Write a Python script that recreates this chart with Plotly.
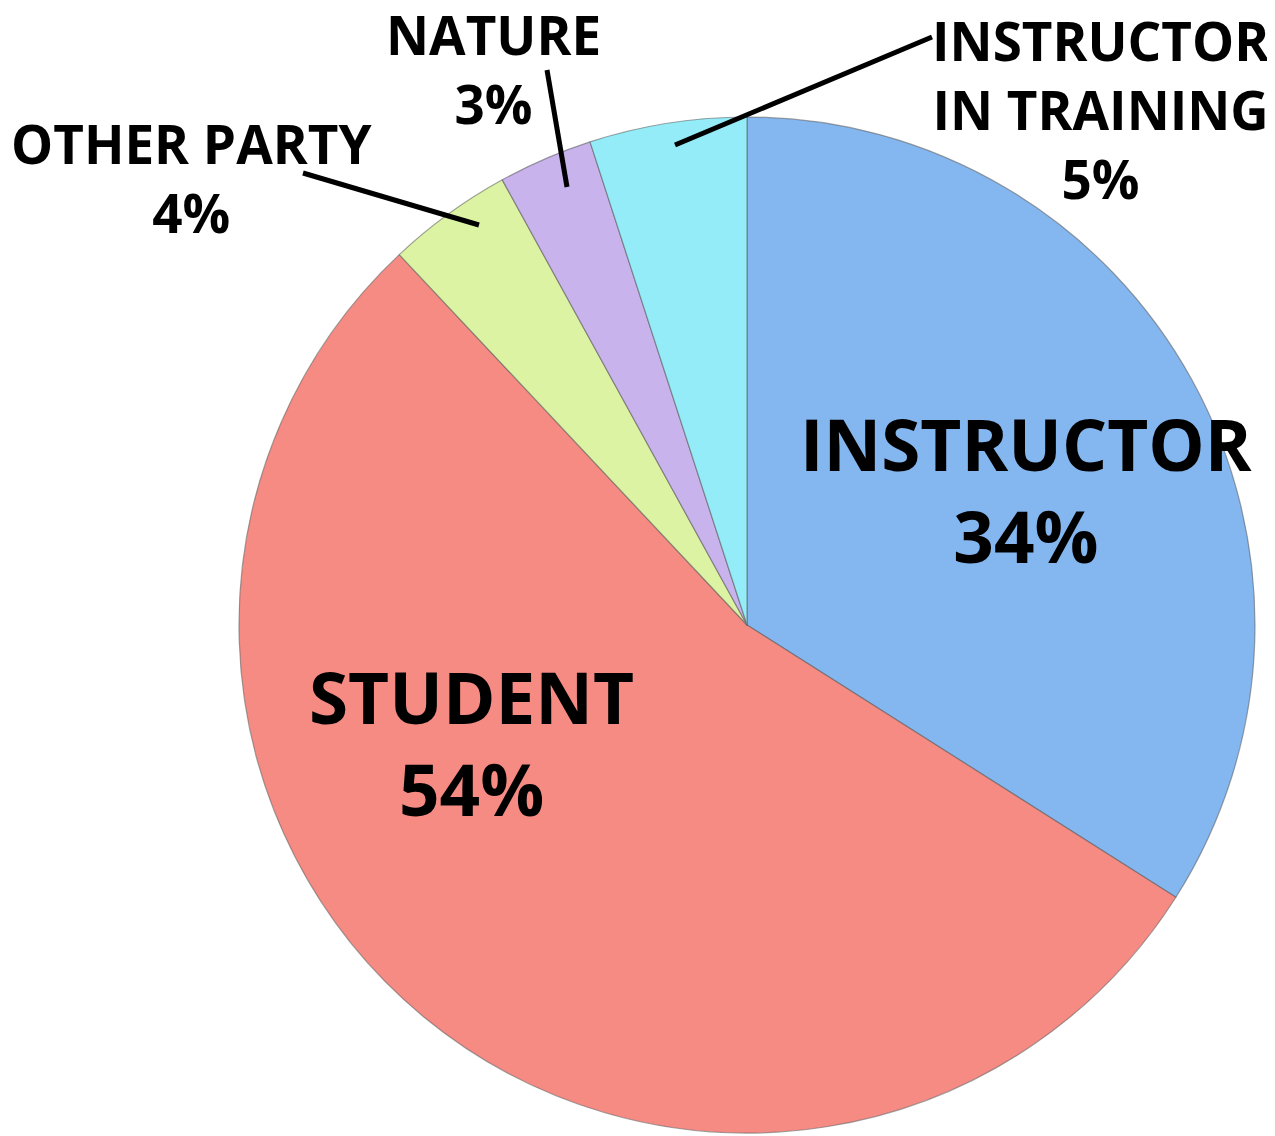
import plotly.graph_objects as go

labels = ['INSTRUCTOR', 'STUDENT', 'OTHER PARTY', 'NATURE', 'INSTRUCTOR IN TRAINING']
values = [34, 54, 4, 3, 5]
colors = ['#84b7ef', '#f58b83', '#dcf3a4', '#c9b3ec', '#93ecf8']

W, H = 1275, 1136
OFF = 8  # page body margin


def px(x):
    return (x - OFF) / W


def py(y):
    return 1 - (y - OFF) / H


fig = go.Figure()
fig.add_trace(go.Pie(
    labels=labels,
    values=values,
    sort=False,
    direction='clockwise',
    rotation=0,
    textinfo='none',
    hoverinfo='label+percent',
    marker=dict(colors=colors, line=dict(color='rgba(90,90,90,0.55)', width=1.2)),
    domain=dict(x=[px(239), px(1255)], y=[py(1133), py(117)]),
    showlegend=False,
))

# label placement (pixel centres) and font size per slice
label_pos = {
    'INSTRUCTOR': (1026, 490, 71),
    'STUDENT': (472, 742, 71),
    'OTHER PARTY': (191, 178, 53),
    'NATURE': (493, 69, 53),
    'INSTRUCTOR IN TRAINING': (1100, 109, 53),
}
for lab, val in zip(labels, values):
    x, y, size = label_pos[lab]
    txt = lab.replace('INSTRUCTOR IN', 'INSTRUCTOR<br>IN')
    fig.add_annotation(
        x=px(x), y=py(y), xref='paper', yref='paper',
        text=f'{txt}<br>{val}%', showarrow=False,
        xanchor='center', yanchor='middle', align='center',
        font=dict(family='Open Sans', size=size, color='black', weight=700),
    )

# leader lines
leaders = [((675, 145), (932, 37)), ((547, 70), (567, 187)), ((303, 173), (479, 225))]
for (x0, y0), (x1, y1) in leaders:
    fig.add_shape(type='line', xref='paper', yref='paper',
                  x0=px(x0), y0=py(y0), x1=px(x1), y1=py(y1),
                  line=dict(color='black', width=5))

fig.update_layout(
    width=W, height=H,
    margin=dict(t=0, b=0, l=0, r=0),
    paper_bgcolor='white', plot_bgcolor='white',
)

fig.write_html('out.html')
